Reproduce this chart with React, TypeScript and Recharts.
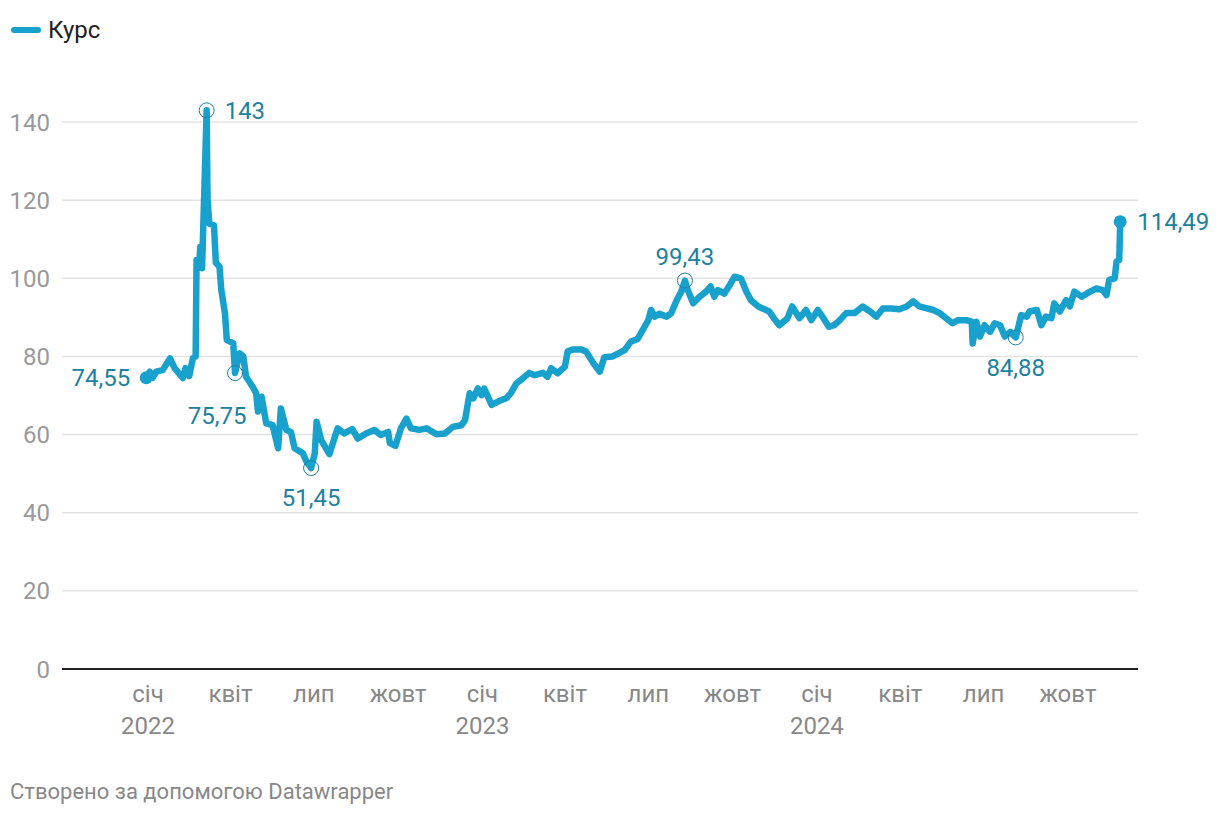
import React from "react";
import { LineChart, Line, XAxis, YAxis, CartesianGrid, ReferenceLine, ReferenceDot } from "recharts";

// курс по датах (читано з графіка)
const dates = [
  "2021-12-30", "2022-01-03", "2022-01-06", "2022-01-10", "2022-01-17", "2022-01-25", "2022-01-30", "2022-02-08",
  "2022-02-11", "2022-02-15", "2022-02-19", "2022-02-22", "2022-02-23", "2022-02-26", "2022-02-27", "2022-03-01",
  "2022-03-06", "2022-03-07", "2022-03-09", "2022-03-14", "2022-03-16", "2022-03-20", "2022-03-22", "2022-03-26",
  "2022-03-28", "2022-04-04", "2022-04-06", "2022-04-11", "2022-04-15", "2022-04-18", "2022-04-25", "2022-04-29",
  "2022-05-01", "2022-05-05", "2022-05-10", "2022-05-17", "2022-05-23", "2022-05-26", "2022-06-01", "2022-06-06",
  "2022-06-10", "2022-06-19", "2022-06-23", "2022-06-28", "2022-07-02", "2022-07-04", "2022-07-09", "2022-07-18",
  "2022-07-24", "2022-07-27", "2022-08-03", "2022-08-12", "2022-08-18", "2022-08-27", "2022-09-05", "2022-09-12",
  "2022-09-20", "2022-09-22", "2022-09-28", "2022-10-04", "2022-10-10", "2022-10-15", "2022-10-24", "2022-11-01",
  "2022-11-12", "2022-11-21", "2022-11-30", "2022-12-09", "2022-12-13", "2022-12-18", "2022-12-22", "2022-12-27",
  "2022-12-31", "2023-01-03", "2023-01-11", "2023-01-20", "2023-01-27", "2023-02-01", "2023-02-07", "2023-02-14",
  "2023-02-21", "2023-02-27", "2023-03-08", "2023-03-13", "2023-03-17", "2023-03-24", "2023-04-01", "2023-04-04",
  "2023-04-10", "2023-04-19", "2023-04-24", "2023-05-02", "2023-05-09", "2023-05-14", "2023-05-23", "2023-05-31",
  "2023-06-05", "2023-06-12", "2023-06-19", "2023-06-25", "2023-07-01", "2023-07-04", "2023-07-08", "2023-07-13",
  "2023-07-21", "2023-07-26", "2023-08-01", "2023-08-06", "2023-08-10", "2023-08-13", "2023-08-19", "2023-08-26",
  "2023-09-02", "2023-09-07", "2023-09-11", "2023-09-15", "2023-09-22", "2023-09-28", "2023-10-03", "2023-10-10",
  "2023-10-16", "2023-10-21", "2023-10-29", "2023-11-10", "2023-11-15", "2023-11-21", "2023-11-30", "2023-12-05",
  "2023-12-13", "2023-12-20", "2023-12-26", "2024-01-02", "2024-01-07", "2024-01-14", "2024-01-20", "2024-01-26",
  "2024-02-02", "2024-02-11", "2024-02-20", "2024-02-28", "2024-03-06", "2024-03-13", "2024-03-22", "2024-03-31",
  "2024-04-08", "2024-04-15", "2024-04-22", "2024-04-30", "2024-05-07", "2024-05-14", "2024-05-21", "2024-05-28",
  "2024-06-03", "2024-06-12", "2024-06-18", "2024-06-19", "2024-06-23", "2024-06-27", "2024-07-02", "2024-07-08",
  "2024-07-13", "2024-07-19", "2024-07-24", "2024-07-30", "2024-08-05", "2024-08-11", "2024-08-17", "2024-08-20",
  "2024-08-28", "2024-09-02", "2024-09-07", "2024-09-13", "2024-09-16", "2024-09-22", "2024-09-29", "2024-10-03",
  "2024-10-08", "2024-10-16", "2024-10-25", "2024-11-01", "2024-11-08", "2024-11-12", "2024-11-15", "2024-11-21",
  "2024-11-23", "2024-11-26", "2024-11-27",
];

const rates = [
  74.55, 76.1, 74.5, 76.1, 76.5, 79.5, 77.0, 74.5,
  77.0, 75.0, 79.6, 80.0, 104.7, 103.0, 108.0, 102.6,
  143.0, 120.0, 114.0, 113.6, 104.0, 103.0, 97.0, 91.0,
  84.2, 83.4, 75.75, 80.8, 80.0, 74.8, 72.3, 70.6,
  65.9, 69.7, 62.9, 62.4, 56.5, 66.7, 61.2, 60.7,
  56.5, 55.2, 53.1, 51.45, 55.2, 63.3, 58.6, 55.0,
  59.5, 61.6, 60.3, 61.4, 59.0, 60.3, 61.2, 59.9,
  60.7, 57.8, 57.1, 61.6, 64.1, 61.6, 61.2, 61.6,
  60.1, 60.3, 62.0, 62.4, 63.7, 70.6, 69.3, 71.8,
  70.1, 71.8, 67.6, 68.7, 69.3, 70.6, 73.1, 74.4,
  75.8, 75.2, 75.8, 74.8, 77.0, 75.7, 77.4, 81.3,
  81.8, 81.8, 81.3, 78.3, 76.1, 79.8, 80.0, 81.0,
  81.6, 83.8, 84.4, 86.8, 89.3, 91.9, 90.2, 90.9,
  90.2, 91.1, 94.4, 96.6, 99.43, 97.0, 93.6, 95.3,
  96.6, 97.9, 95.3, 97.0, 96.1, 98.3, 100.4, 100.0,
  96.6, 94.4, 92.8, 91.5, 89.8, 88.0, 89.8, 92.8,
  89.8, 91.9, 89.3, 91.9, 90.2, 87.6, 88.0, 89.3,
  91.1, 91.1, 92.8, 91.5, 90.2, 92.3, 92.3, 92.1,
  92.8, 94.1, 92.8, 92.3, 91.9, 91.1, 89.8, 88.5,
  89.3, 89.3, 88.9, 83.3, 88.9, 85.1, 88.0, 86.3,
  88.5, 88.0, 85.1, 86.3, 84.88, 90.6, 90.2, 91.5,
  91.9, 88.0, 90.2, 89.8, 93.6, 91.5, 94.4, 92.8,
  96.6, 95.3, 96.6, 97.4, 97.0, 95.7, 99.6, 100.0,
  104.3, 104.7, 114.49,
];

// підписані точки
const noteDates = ["2022-03-06", "2022-04-06", "2022-06-28", "2023-08-10", "2024-08-05"];
const noteValues = [143, 75.75, 51.45, 99.43, 84.88];
const noteLabels = ["143", "75,75", "51,45", "99,43", "84,88"];
const noteOffsets = [[18, 0, "start"], [-18, 42, "middle"], [0, 29, "middle"], [0, -24, "middle"], [0, 30, "middle"]];

const firstLabel = "74,55";
const lastLabel = "114,49";

const yTicks = [0, 20, 40, 60, 80, 100, 120, 140];
const xTickDates = [
  "2022-01-01", "2022-04-01", "2022-07-01", "2022-10-01",
  "2023-01-01", "2023-04-01", "2023-07-01", "2023-10-01",
  "2024-01-01", "2024-04-01", "2024-07-01", "2024-10-01",
];
const monthNames = ["січ", "квіт", "лип", "жовт"];

const DAY0 = Date.UTC(2022, 0, 1);
const toDay = (s: string) => (Date.parse(s) - DAY0) / 86400000;

const data = dates.map((d, i) => ({ day: toDay(d), rate: rates[i] }));
const xTicks = xTickDates.map(toDay);

const BLUE = "#18a1cd";
const LABEL = "#1d81a2";
const FONT = "Roboto, sans-serif";

function XTick(props: any) {
  const { x, y, payload } = props;
  const i = xTicks.indexOf(payload.value);
  const month = monthNames[i % 4];
  const year = i % 4 === 0 ? xTickDates[i].slice(0, 4) : null;
  return (
    <text x={x} y={y} textAnchor="middle" fill="#888" fontSize={24} fontFamily={FONT}>
      <tspan x={x} dy={25}>{month}</tspan>
      {year && <tspan x={x} dy={32}>{year}</tspan>}
    </text>
  );
}

function noteShape(label: string, dx: number, dy: number, anchor: string) {
  return (p: any) => (
    <g>
      <circle cx={p.cx} cy={p.cy} r={7.5} fill="none" stroke={LABEL} strokeWidth={1} />
      <text x={p.cx + dx} y={p.cy + dy} dy="0.36em" textAnchor={anchor} fill={LABEL} fontSize={24} fontFamily={FONT}>
        {label}
      </text>
    </g>
  );
}

function endShape(label: string, dx: number, anchor: string) {
  return (p: any) => (
    <g>
      <circle cx={p.cx} cy={p.cy} r={6.5} fill={BLUE} />
      <text x={p.cx + dx} y={p.cy} dy="0.36em" textAnchor={anchor} fill={LABEL} fontSize={24} fontFamily={FONT}>
        {label}
      </text>
    </g>
  );
}

export default function App() {
  const first = data[0];
  const last = data[data.length - 1];
  return (
    <div style={{ position: "absolute", left: 0, top: 0, width: 1220, height: 816, background: "#fff", fontFamily: FONT }}>
      <div style={{ position: "absolute", left: 11, top: 16, display: "flex", alignItems: "center" }}>
        <span style={{ display: "inline-block", width: 30, height: 6, borderRadius: 3, background: BLUE, marginRight: 7 }} />
        <span style={{ fontSize: 24, color: "#222" }}>Курс</span>
      </div>
      <LineChart width={1220} height={816} data={data} margin={{ top: 83, right: 82, bottom: 117, left: 2 }}>
        <CartesianGrid vertical={false} stroke="#e3e3e3" strokeWidth={1.5} horizontalValues={yTicks.slice(1)} />
        <XAxis
          dataKey="day"
          type="number"
          domain={[-93.86, 1080.44]}
          ticks={xTicks}
          tick={<XTick />}
          axisLine={false}
          tickLine={false}
          interval={0}
          height={30}
        />
        <YAxis
          type="number"
          domain={[0, 150]}
          ticks={yTicks}
          axisLine={false}
          tickLine={false}
          tickMargin={6}
          width={60}
          tick={{ fill: "#999", fontSize: 24, fontFamily: FONT }}
        />
        <ReferenceLine y={0} stroke="#222" strokeWidth={2} />
        <Line
          type="linear"
          dataKey="rate"
          stroke={BLUE}
          strokeWidth={6.5}
          strokeLinejoin="round"
          strokeLinecap="round"
          dot={false}
          isAnimationActive={false}
        />
        {noteDates.map((d, i) => (
          <ReferenceDot
            key={d}
            x={toDay(d)}
            y={noteValues[i]}
            ifOverflow="visible"
            shape={noteShape(noteLabels[i], noteOffsets[i][0] as number, noteOffsets[i][1] as number, noteOffsets[i][2] as string)}
          />
        ))}
        <ReferenceDot x={first.day} y={first.rate} ifOverflow="visible" shape={endShape(firstLabel, -16, "end")} />
        <ReferenceDot x={last.day} y={last.rate} ifOverflow="visible" shape={endShape(lastLabel, 17, "start")} />
      </LineChart>
      <div style={{ position: "absolute", left: 10, top: 779, fontSize: 22, color: "#888" }}>
        Створено за допомогою Datawrapper
      </div>
    </div>
  );
}
